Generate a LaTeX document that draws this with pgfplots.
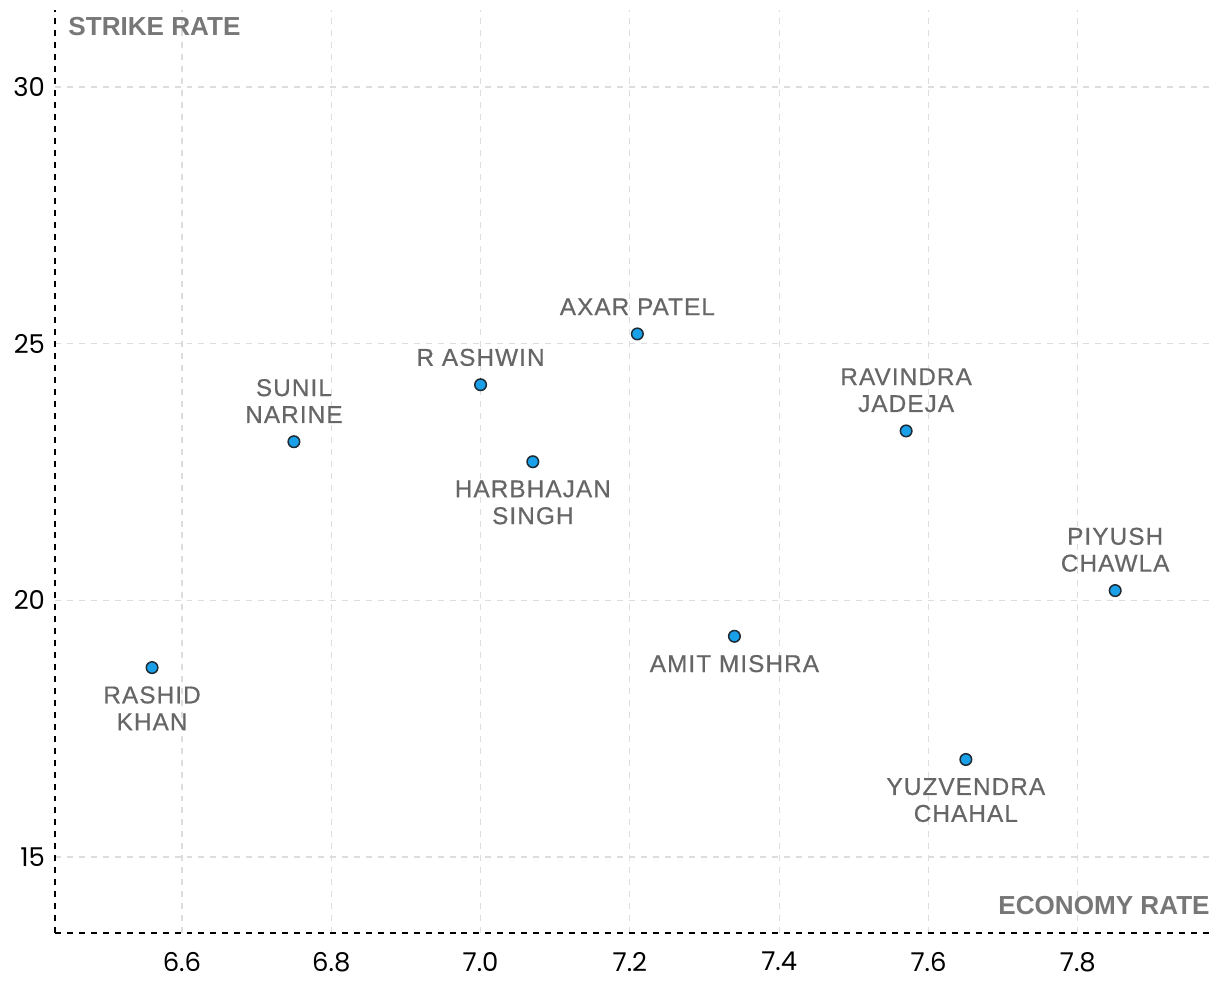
\documentclass[border=0pt]{standalone}
\usepackage{pgfplots}
\pgfplotsset{compat=1.18}
\usepackage{fontspec}
\setmainfont{Liberation Sans}[LetterSpace=4.5, FakeBold=0.6]
\newfontfamily\tickfont{Poppins}
\newfontfamily\titlefont{Liberation Sans}
\definecolor{labgray}{HTML}{666666}
\definecolor{titgray}{HTML}{777777}
\definecolor{gridgray}{HTML}{DDDDDD}
\definecolor{dotblue}{HTML}{1AA0E8}
\definecolor{dotedge}{HTML}{1E2A33}
\begin{document}
\begin{tikzpicture}
\begin{axis}[
  scale only axis,
  width=577.5bp, height=461.5bp,
  xmin=6.43, xmax=7.977,
  ymin=13.52, ymax=31.5,
  xtick={6.6,6.8,7.0,7.2,7.4,7.6,7.8},
  ytick={15,20,25,30},
  xticklabel style={/pgf/number format/.cd, fixed, fixed zerofill, precision=1},
  /pgf/number format/assume math mode=true,
  ticklabel style={font=\tickfont\fontsize{13}{14}\selectfont, text=black},
  major tick length=0pt,
  xticklabel shift=6bp,
  yticklabel shift=1.5bp,
  axis x line*=bottom, axis y line*=left,
  axis line style={black, dashed, line width=0.7pt, -},
  grid=major,
  grid style={gridgray, dashed, line width=0.6pt},
  clip=false,
  nodes near coords={\pgfplotspointmeta},
  point meta=explicit symbolic,
]
% labels above
\addplot[only marks, mark=*, mark size=2.9pt, mark options={fill=dotblue, draw=dotedge, line width=0.75pt},
  nodes near coords style={anchor=south, inner sep=0pt, yshift=9bp, align=center, text=labgray, font=\fontsize{12.2}{13.5}\selectfont}]
coordinates {
 (6.75,23.09) [{SUNIL\\NARINE}]
 (7.00,24.20) [{R ASHWIN}]
 (7.21,25.19) [{AXAR PATEL}]
 (7.57,23.30) [{RAVINDRA\\JADEJA}]
 (7.85,20.19) [{PIYUSH\\CHAWLA}]
};
% labels below
\addplot[only marks, mark=*, mark size=2.9pt, mark options={fill=dotblue, draw=dotedge, line width=0.75pt},
  nodes near coords style={anchor=north, inner sep=0pt, yshift=-9bp, align=center, text=labgray, font=\fontsize{12.2}{13.5}\selectfont}]
coordinates {
 (6.56,18.69) [{RASHID\\KHAN}]
 (7.07,22.70) [{HARBHAJAN\\SINGH}]
 (7.34,19.30) [{AMIT MISHRA}]
 (7.65,16.90) [{YUZVENDRA\\CHAHAL}]
};
\node[anchor=north west, inner sep=0pt, text=titgray, font=\titlefont\bfseries\fontsize{13.1}{14}\selectfont]
  at ([xshift=6.5bp, yshift=-3.5bp]rel axis cs:0,1) {STRIKE RATE};
\node[anchor=south east, inner sep=0pt, text=titgray, font=\titlefont\bfseries\fontsize{13.1}{14}\selectfont]
  at ([yshift=9bp]rel axis cs:1,0) {ECONOMY RATE};
\end{axis}
\path[use as bounding box] ([xshift=-27.5bp, yshift=-36.5bp]current axis.south west) rectangle ([xshift=5bp, yshift=5bp]current axis.north east);
\end{tikzpicture}
\end{document}
